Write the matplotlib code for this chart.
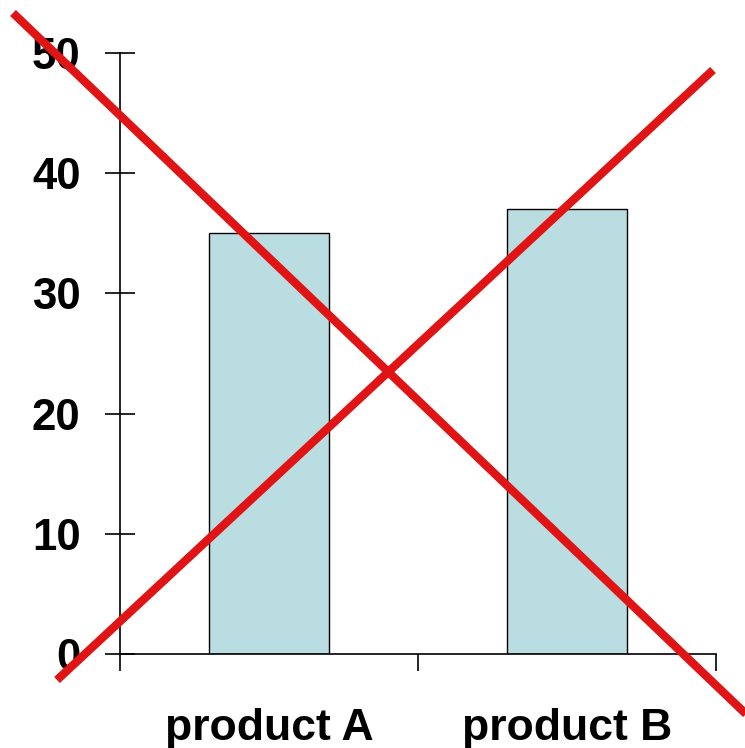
import matplotlib
matplotlib.use("Agg")
import matplotlib.pyplot as plt
from matplotlib.lines import Line2D

categories = ["product A", "product B"]
values = [35, 37]
y_ticks = [0, 10, 20, 30, 40, 50]

W, H = 745, 748
fig = plt.figure(figsize=(W / 100, H / 100), dpi=100)
fig.patch.set_facecolor("white")
ax = fig.add_axes([120 / W, 1 - 654 / H, (716 - 120) / W, (654 - 53) / H])

centers = [i + 0.5 for i in range(len(categories))]
ax.bar(centers, values, width=0.405, color="#b9dde1", edgecolor="black", linewidth=1.0, zorder=2)

ax.set_xlim(0, len(categories))
ax.set_ylim(0, 50)
for s in ["top", "right"]:
    ax.spines[s].set_visible(False)
for s in ["left", "bottom"]:
    ax.spines[s].set_linewidth(1.2)
    ax.spines[s].set_color("black")

font = dict(family=["Liberation Sans", "DejaVu Sans"], weight="bold", size=31.5)
ax.set_yticks(y_ticks)
ax.set_yticklabels([str(v) for v in y_ticks], **font)
ax.tick_params(axis="y", direction="inout", length=21, width=1.2, pad=18)

ax.set_xticks(centers)
ax.set_xticklabels(categories, fontsize=32, family=["Liberation Sans", "DejaVu Sans"], weight="bold")
ax.tick_params(axis="x", which="major", length=0, pad=39)
ax.set_xticks(range(len(categories) + 1), minor=True)
ax.tick_params(axis="x", which="minor", direction="out", length=12, width=1.2)

def px(x, y):
    return x / W, 1 - y / H

red = "#e01414"
for (x0, y0), (x1, y1) in [((13, 13), (770, 737)), ((57, 680), (713, 70))]:
    a, b = px(x0, y0)
    c, d = px(x1, y1)
    fig.add_artist(Line2D([a, c], [b, d], transform=fig.transFigure, color=red,
                          linewidth=6.0, solid_capstyle="butt", zorder=10))

fig.savefig("out.png", dpi=100)
